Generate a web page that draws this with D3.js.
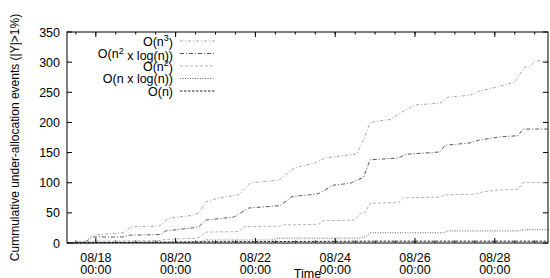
<!DOCTYPE html>
<html>
<head>
<meta charset="utf-8">
<script src="https://d3js.org/d3.v7.min.js"></script>
<style>
  body { margin: 0; background: #fff; }
  svg text { font-family: "Liberation Sans", Arial, sans-serif; fill: #000; }
</style>
</head>
<body>
<div class="chart"></div>
<script>
// series: [time, cumulative count]
var o_n3 = [
  ['08/17 07:00', 0], ['08/17 18:00', 3], ['08/17 22:00', 13], ['08/18 17:00', 17],
  ['08/18 21:00', 27], ['08/19 14:00', 28], ['08/19 20:00', 41], ['08/20 10:00', 46],
  ['08/20 14:00', 50], ['08/20 18:00', 68], ['08/21 02:00', 75], ['08/21 14:00', 80],
  ['08/21 21:00', 100], ['08/22 14:00', 104], ['08/22 23:00', 124], ['08/23 12:00', 133],
  ['08/23 18:00', 141], ['08/24 08:00', 146], ['08/24 13:00', 148], ['08/24 17:00', 171],
  ['08/24 21:00', 200], ['08/25 09:00', 205], ['08/25 18:00', 220], ['08/26 00:00', 229],
  ['08/26 15:00', 232], ['08/26 20:00', 242], ['08/27 09:00', 245], ['08/27 15:00', 252],
  ['08/28 03:00', 260], ['08/28 12:00', 267], ['08/28 18:00', 292], ['08/28 21:00', 292],
  ['08/29 00:00', 302], ['08/29 08:00', 302]
];
var o_n2logn = [
  ['08/17 07:00', 0], ['08/17 18:00', 2], ['08/17 22:00', 10], ['08/18 17:00', 10],
  ['08/18 20:00', 13], ['08/19 15:00', 14], ['08/19 18:00', 20], ['08/20 10:00', 25],
  ['08/20 14:00', 27], ['08/20 18:00', 38], ['08/21 11:00', 43], ['08/21 20:00', 58],
  ['08/22 10:00', 61], ['08/22 15:00', 62], ['08/22 22:00', 77], ['08/23 09:00', 80],
  ['08/23 14:00', 82], ['08/23 23:00', 96], ['08/24 09:00', 99], ['08/24 17:00', 109],
  ['08/24 21:00', 138], ['08/25 14:00', 141], ['08/25 18:00', 147], ['08/26 15:00', 151],
  ['08/26 18:00', 162], ['08/27 09:00', 166], ['08/27 15:00', 171], ['08/28 03:00', 176],
  ['08/28 14:00', 178], ['08/28 17:00', 189], ['08/29 08:00', 189]
];
var o_n2 = [
  ['08/17 07:00', 0], ['08/17 18:00', 1], ['08/17 22:00', 3], ['08/19 14:00', 4],
  ['08/19 18:00', 6], ['08/20 12:00', 8], ['08/20 15:00', 10], ['08/20 18:00', 18],
  ['08/21 14:00', 19], ['08/21 17:00', 27], ['08/22 14:00', 28], ['08/22 17:00', 30],
  ['08/23 14:00', 31], ['08/23 17:00', 37], ['08/24 12:00', 38], ['08/24 15:00', 49],
  ['08/24 18:00', 51], ['08/24 21:00', 66], ['08/25 14:00', 67], ['08/25 17:00', 75],
  ['08/26 15:00', 76], ['08/26 18:00', 80], ['08/27 12:00', 81], ['08/27 17:00', 85],
  ['08/28 03:00', 88], ['08/28 14:00', 89], ['08/28 17:00', 100], ['08/29 08:00', 101]
];
var o_nlogn = [
  ['08/17 07:00', 0], ['08/18 02:00', 1], ['08/20 14:00', 1], ['08/20 18:00', 5],
  ['08/22 11:00', 5], ['08/22 13:00', 8], ['08/24 14:00', 8], ['08/24 18:00', 10],
  ['08/24 21:00', 17], ['08/26 17:00', 17], ['08/26 20:00', 20], ['08/28 14:00', 20],
  ['08/28 17:00', 22], ['08/29 08:00', 22]
];
var o_n = [
  ['08/17 07:00', 0], ['08/18 17:00', 1], ['08/20 18:00', 2], ['08/24 21:00', 3],
  ['08/29 08:00', 3]
];

// legend order, top to bottom
var series_names = [
  ['O(n', '3', ')'],
  ['O(n', '2', ' x log(n))'],
  ['O(n', '2', ')'],
  ['O(n x log(n))'],
  ['O(n)']
];
var series_data = [o_n3, o_n2logn, o_n2, o_nlogn, o_n];

var y_ticks = [0, 50, 100, 150, 200, 250, 300, 350];
var x_ticks = ['08/18 00:00', '08/20 00:00', '08/22 00:00', '08/24 00:00', '08/26 00:00', '08/28 00:00'];
var x_domain = ['08/17 06:40', '08/29 08:00'];

var styles = [
  { stroke: '#a6a6a6', dash: '3,2,1,2' },
  { stroke: '#5a5a5a', dash: '4,2,1,2' },
  { stroke: '#b4b4b4', dash: '3,2' },
  { stroke: '#666',    dash: '1,1.5' },
  { stroke: '#222',    dash: '2.5,1.5' }
];

var chart = {

  element: '.chart',

  width: 550,
  height: 278,

  margin: { top: 32, right: 2, bottom: 35, left: 67 },

  parse: d3.timeParse('%m/%d %H:%M'),

  draw: function(){
    var self = this,
        w = this.width - this.margin.left - this.margin.right,
        h = this.height - this.margin.top - this.margin.bottom;

    var svg = d3.select(this.element).append('svg')
          .attr('width', this.width)
          .attr('height', this.height);
    var g = svg.append('g')
          .attr('transform', 'translate(' + this.margin.left + ',' + this.margin.top + ')');

    var x = d3.scaleTime()
          .domain(x_domain.map(function(s){ return self.parse(s); }))
          .range([0, w]);
    var y = d3.scaleLinear().domain([0, 350]).range([h, 0]);

    // minor ticks every 12h, majors every two days, on top and bottom
    var minor = d3.timeHour.every(12).range(x.domain()[0], x.domain()[1]);
    var majors = x_ticks.map(function(s){ return self.parse(s); });

    g.selectAll('.xminor')
        .data(minor)
      .enter().append('path')
        .attr('d', function(d){
          var px = x(d);
          return 'M' + px + ',' + h + 'v-2.5M' + px + ',0v2.5';
        })
        .attr('stroke', '#000').attr('stroke-width', 1);

    g.selectAll('.xmajor')
        .data(majors)
      .enter().append('path')
        .attr('d', function(d){
          var px = x(d);
          return 'M' + px + ',' + h + 'v-5M' + px + ',0v5';
        })
        .attr('stroke', '#000').attr('stroke-width', 1);

    g.selectAll('.ytick')
        .data(y_ticks)
      .enter().append('path')
        .attr('d', function(d){
          var py = y(d);
          return 'M0,' + py + 'h5M' + w + ',' + py + 'h-5';
        })
        .attr('stroke', '#000').attr('stroke-width', 1);

    g.selectAll('.ylabel')
        .data(y_ticks)
      .enter().append('text')
        .attr('x', -7)
        .attr('y', function(d){ return y(d); })
        .attr('dy', '0.36em')
        .attr('text-anchor', 'end')
        .style('font-size', '12.5px')
        .text(function(d){ return d; });

    var xl = g.selectAll('.xlabel')
        .data(majors)
      .enter().append('text')
        .attr('text-anchor', 'middle')
        .style('font-size', '12.5px')
        .attr('transform', function(d){ return 'translate(' + x(d) + ',' + (h + 19) + ')'; });
    xl.append('tspan').attr('x', 0).attr('y', 0).text(d3.timeFormat('%m/%d'));
    xl.append('tspan').attr('x', 0).attr('y', 11.5).text(d3.timeFormat('%H:%M'));

    g.append('text')
        .attr('x', w / 2)
        .attr('y', h + 35)
        .attr('text-anchor', 'middle')
        .style('font-size', '12.5px')
        .text('Time');

    g.append('text')
        .attr('transform', 'translate(' + (-48) + ',' + (h / 2) + ') rotate(-90)')
        .attr('text-anchor', 'middle')
        .style('font-size', '12px')
        .text('Cummulative under-allocation events (|Y|>1%)');

    var line = d3.line()
          .x(function(d){ return x(self.parse(d[0])); })
          .y(function(d){ return y(d[1]); });

    g.selectAll('.series')
        .data(series_data)
      .enter().append('path')
        .attr('class', 'series')
        .attr('fill', 'none')
        .attr('stroke', function(d, i){ return styles[i].stroke; })
        .attr('stroke-dasharray', function(d, i){ return styles[i].dash; })
        .attr('stroke-width', 1)
        .attr('d', line);

    // legend
    var leg = g.selectAll('.legend')
        .data(series_names)
      .enter().append('g')
        .attr('class', 'legend')
        .attr('transform', function(d, i){ return 'translate(0,' + (9 + i * 12.5) + ')'; });

    leg.append('path')
        .attr('d', 'M113,0h35')
        .attr('fill', 'none')
        .attr('stroke', function(d, i){ return styles[i].stroke; })
        .attr('stroke-dasharray', function(d, i){ return styles[i].dash; });

    var lt = leg.append('text')
        .attr('x', 106)
        .attr('dy', '0.36em')
        .attr('text-anchor', 'end')
        .style('font-size', '12.5px');
    lt.append('tspan').text(function(d){ return d[0]; });
    lt.filter(function(d){ return d.length > 1; }).append('tspan')
        .attr('dy', '-0.45em')
        .style('font-size', '9px')
        .text(function(d){ return d[1]; });
    lt.filter(function(d){ return d.length > 1; }).append('tspan')
        .attr('dy', '0.45em')
        .text(function(d){ return d[2]; });

    // border on top of everything
    g.append('rect')
        .attr('width', w).attr('height', h)
        .attr('fill', 'none')
        .attr('stroke', '#000')
        .attr('stroke-width', 1);

    return svg;
  }
};

chart.draw();
</script>
</body>
</html>
